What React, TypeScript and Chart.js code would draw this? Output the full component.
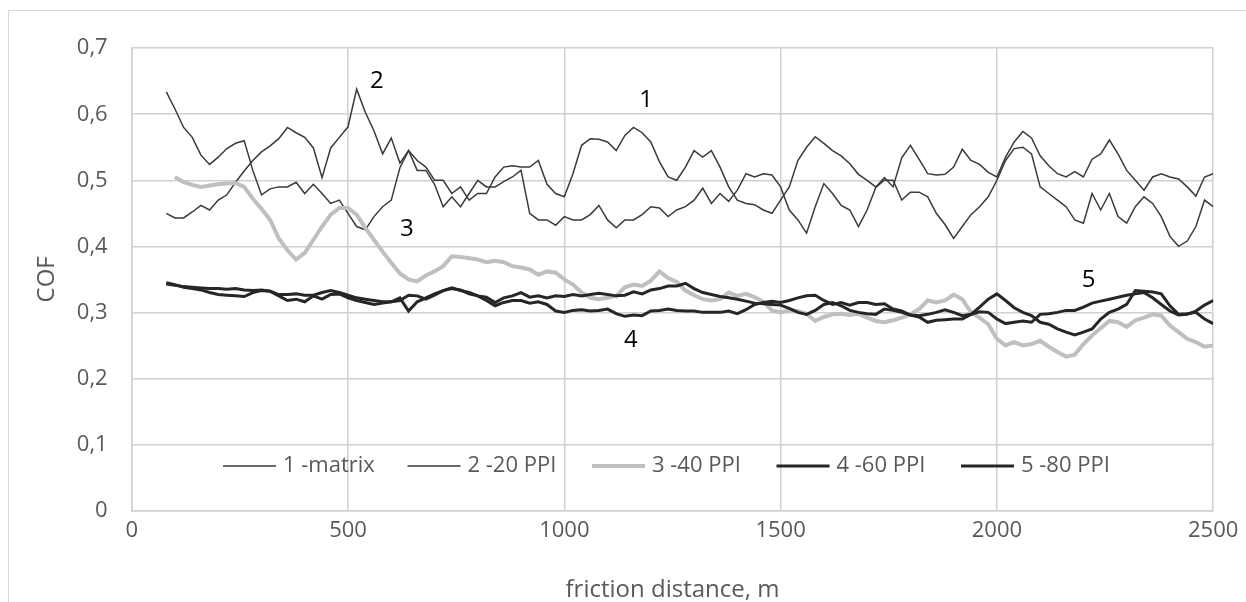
import React, { useEffect, useRef } from "react";
import { Chart, registerables } from "chart.js";

Chart.register(...registerables);

// friction distance, m
const distance = [
  80, 100, 120, 140, 160, 180, 200, 220, 240, 260,
  280, 300, 320, 340, 360, 380, 400, 420, 440, 460,
  480, 500, 520, 540, 560, 580, 600, 620, 640, 660,
  680, 700, 720, 740, 760, 780, 800, 820, 840, 860,
  880, 900, 920, 940, 960, 980, 1000, 1020, 1040, 1060,
  1080, 1100, 1120, 1140, 1160, 1180, 1200, 1220, 1240, 1260,
  1280, 1300, 1320, 1340, 1360, 1380, 1400, 1420, 1440, 1460,
  1480, 1500, 1520, 1540, 1560, 1580, 1600, 1620, 1640, 1660,
  1680, 1700, 1720, 1740, 1760, 1780, 1800, 1820, 1840, 1860,
  1880, 1900, 1920, 1940, 1960, 1980, 2000, 2020, 2040, 2060,
  2080, 2100, 2120, 2140, 2160, 2180, 2200, 2220, 2240, 2260,
  2280, 2300, 2320, 2340, 2360, 2380, 2400, 2420, 2440, 2460,
  2480, 2500,
];

const matrix = [
  0.634, 0.608, 0.58, 0.565, 0.538, 0.524, 0.535, 0.548, 0.556, 0.56,
  0.515, 0.478, 0.487, 0.49, 0.49, 0.497, 0.48, 0.494, 0.48, 0.465,
  0.47, 0.45, 0.43, 0.425, 0.445, 0.46, 0.47, 0.519, 0.545, 0.53,
  0.52, 0.5, 0.5, 0.48, 0.49, 0.47, 0.48, 0.48, 0.505, 0.52,
  0.522, 0.52, 0.52, 0.53, 0.494, 0.48, 0.475, 0.51, 0.553, 0.563,
  0.562, 0.558, 0.545, 0.568, 0.58, 0.572, 0.558, 0.528, 0.505, 0.5,
  0.52, 0.545, 0.535, 0.545, 0.52, 0.49, 0.47, 0.465, 0.463, 0.455,
  0.45, 0.47, 0.49, 0.53, 0.55, 0.566, 0.556, 0.545, 0.537, 0.525,
  0.509, 0.5, 0.49, 0.504, 0.49, 0.534, 0.553, 0.532, 0.51, 0.508,
  0.509, 0.52, 0.547, 0.53, 0.524, 0.512, 0.505, 0.535, 0.558, 0.574,
  0.564, 0.537, 0.522, 0.51, 0.505, 0.513, 0.505, 0.532, 0.54, 0.561,
  0.54, 0.515, 0.5, 0.485, 0.505, 0.51, 0.505, 0.502, 0.49, 0.476,
  0.505, 0.51,
];

const ppi20 = [
  0.45, 0.443, 0.443, 0.452, 0.462, 0.455, 0.47, 0.478, 0.497, 0.514,
  0.53, 0.543, 0.552, 0.563, 0.58, 0.572, 0.565, 0.549, 0.504, 0.549,
  0.565, 0.581, 0.638, 0.603, 0.575, 0.54, 0.564, 0.526, 0.545, 0.515,
  0.515, 0.494, 0.46, 0.475, 0.46, 0.48, 0.5, 0.49, 0.49, 0.498,
  0.505, 0.515, 0.45, 0.44, 0.44, 0.432, 0.445, 0.44, 0.44, 0.448,
  0.462, 0.44, 0.428, 0.44, 0.44, 0.448, 0.46, 0.458, 0.445, 0.455,
  0.46, 0.47, 0.488, 0.465, 0.48, 0.468, 0.485, 0.51, 0.505, 0.51,
  0.508, 0.49, 0.455, 0.44, 0.42, 0.46, 0.495, 0.48, 0.462, 0.455,
  0.43, 0.455, 0.489, 0.5, 0.5, 0.47, 0.482, 0.482, 0.475, 0.45,
  0.433, 0.412, 0.43, 0.448, 0.46, 0.475, 0.5, 0.53, 0.548, 0.55,
  0.54, 0.49, 0.48, 0.47, 0.46, 0.44, 0.435, 0.48, 0.455, 0.48,
  0.445, 0.435, 0.46, 0.475, 0.465, 0.445, 0.415, 0.4, 0.408, 0.43,
  0.47, 0.46,
];

const ppi40 = [
  null, 0.505, 0.497, 0.493, 0.49, 0.492, 0.494, 0.495, 0.496, 0.49,
  0.472, 0.457, 0.44, 0.412, 0.394, 0.38, 0.39, 0.41, 0.43, 0.448,
  0.458, 0.458, 0.448, 0.428, 0.41, 0.392, 0.375, 0.359, 0.35, 0.347,
  0.356, 0.362, 0.37, 0.385, 0.384, 0.382, 0.38, 0.376, 0.378, 0.376,
  0.37, 0.368, 0.365, 0.357, 0.362, 0.36, 0.35, 0.342, 0.33, 0.322,
  0.32, 0.322, 0.325, 0.338, 0.342, 0.34, 0.348, 0.362, 0.352, 0.346,
  0.333, 0.326, 0.32, 0.318, 0.32, 0.33, 0.325, 0.328, 0.323, 0.316,
  0.303, 0.3, 0.303, 0.302, 0.298, 0.287, 0.293, 0.297, 0.298, 0.296,
  0.298, 0.292, 0.287, 0.285, 0.288, 0.292, 0.297, 0.305, 0.318, 0.315,
  0.318, 0.327, 0.32, 0.3, 0.292, 0.282, 0.26, 0.25, 0.255, 0.25,
  0.252, 0.257, 0.248, 0.24, 0.233, 0.236, 0.252, 0.265, 0.276, 0.287,
  0.285, 0.278, 0.288, 0.292, 0.297, 0.295, 0.28, 0.27, 0.26, 0.255,
  0.248, 0.25,
];

const ppi60 = [
  0.345, 0.342, 0.338, 0.336, 0.334, 0.33, 0.327, 0.326, 0.325, 0.324,
  0.33, 0.333, 0.332, 0.325, 0.318, 0.32, 0.316, 0.325, 0.32, 0.327,
  0.328, 0.322, 0.318, 0.315, 0.312, 0.314, 0.316, 0.322, 0.302, 0.316,
  0.322, 0.328, 0.333, 0.337, 0.333, 0.33, 0.325, 0.318, 0.31, 0.315,
  0.318, 0.318, 0.314, 0.316, 0.312, 0.302, 0.3, 0.303, 0.304, 0.302,
  0.303, 0.305, 0.298, 0.294, 0.296, 0.295, 0.302, 0.303, 0.305, 0.303,
  0.302, 0.302, 0.3, 0.3, 0.3, 0.302, 0.298, 0.304, 0.312, 0.315,
  0.317, 0.315, 0.318, 0.322, 0.325, 0.326, 0.318, 0.312, 0.315, 0.311,
  0.315, 0.315, 0.312, 0.313, 0.305, 0.302, 0.296, 0.293, 0.285, 0.288,
  0.289, 0.29, 0.29, 0.297, 0.301, 0.3, 0.29, 0.283, 0.285, 0.287,
  0.285, 0.297, 0.298, 0.3, 0.303, 0.303, 0.308, 0.314, 0.317, 0.32,
  0.323, 0.326, 0.328, 0.33, 0.322, 0.312, 0.302, 0.296, 0.297, 0.302,
  0.311, 0.318,
];

const ppi80 = [
  0.343, 0.341, 0.339, 0.338, 0.337, 0.336, 0.336, 0.335, 0.336, 0.334,
  0.333, 0.334, 0.332, 0.327, 0.327, 0.328, 0.326, 0.326, 0.33, 0.333,
  0.33, 0.326, 0.322, 0.32, 0.318, 0.316, 0.316, 0.318, 0.326, 0.325,
  0.32, 0.326, 0.333, 0.336, 0.334, 0.328, 0.325, 0.323, 0.315, 0.322,
  0.325, 0.33, 0.323, 0.325, 0.322, 0.325, 0.324, 0.327, 0.325, 0.327,
  0.329, 0.327, 0.325, 0.326, 0.331, 0.328, 0.334, 0.336, 0.34, 0.34,
  0.344, 0.336, 0.33, 0.327, 0.324, 0.322, 0.32, 0.317, 0.314, 0.313,
  0.312, 0.311, 0.306, 0.3, 0.297, 0.303, 0.312, 0.315, 0.31, 0.303,
  0.3, 0.298, 0.297, 0.305, 0.303, 0.3, 0.296, 0.295, 0.297, 0.3,
  0.304, 0.3, 0.295, 0.297, 0.308, 0.32, 0.328, 0.318, 0.307, 0.3,
  0.295, 0.285, 0.282, 0.275, 0.27, 0.266, 0.27, 0.275, 0.29, 0.3,
  0.305, 0.312, 0.333, 0.332, 0.331, 0.328, 0.31, 0.297, 0.298, 0.3,
  0.29, 0.283,
];

const seriesNames = ["1 -matrix", "2 -20 PPI", "3 -40 PPI", "4 -60 PPI", "5 -80 PPI"];
const seriesValues = [matrix, ppi20, ppi40, ppi60, ppi80];
const seriesColors = ["#3a3a3a", "#3a3a3a", "#bfbfbf", "#262626", "#262626"];
const seriesWidths = [1.5, 1.5, 4, 3, 3];

// curve number labels placed in data coordinates (distance, COF)
const curveLabels = [
  { text: "1", d: 1189, v: 0.622 },
  { text: "2", d: 567, v: 0.65 },
  { text: "3", d: 636, v: 0.426 },
  { text: "4", d: 1154, v: 0.258 },
  { text: "5", d: 2212, v: 0.349 },
];

const xTicks = [0, 500, 1000, 1500, 2000, 2500];
const yMin = 0;
const yMax = 0.7;

const FONT = "'Open Sans', 'DejaVu Sans', sans-serif";

const insideLegend = {
  id: "insideLegend",
  afterDraw(chart: any) {
    const ctx = chart.ctx;
    const y = 455;
    const start = 214;
    const step = 184.5;
    const lineLen = 53;
    ctx.save();
    ctx.font = `22px ${FONT}`;
    ctx.textBaseline = "middle";
    ctx.textAlign = "left";
    seriesNames.forEach((name, i) => {
      const x0 = start + i * step;
      ctx.beginPath();
      ctx.strokeStyle = seriesColors[i];
      ctx.lineWidth = seriesWidths[i];
      ctx.moveTo(x0, y);
      ctx.lineTo(x0 + lineLen, y);
      ctx.stroke();
      ctx.fillStyle = "#595959";
      ctx.fillText(name, x0 + lineLen + 7, y);
    });
    ctx.restore();
  },
};

const curveLabelPlugin = {
  id: "curveLabels",
  afterDraw(chart: any) {
    const ctx = chart.ctx;
    const xs = chart.scales.x;
    const ys = chart.scales.y;
    ctx.save();
    ctx.font = `24px ${FONT}`;
    ctx.fillStyle = "#000000";
    ctx.textAlign = "center";
    ctx.textBaseline = "middle";
    curveLabels.forEach((l) => {
      ctx.fillText(l.text, xs.getPixelForValue(l.d), ys.getPixelForValue(l.v));
    });
    ctx.restore();
  },
};

export default function App() {
  const ref = useRef<HTMLCanvasElement | null>(null);

  useEffect(() => {
    if (!ref.current) return;
    const datasets = seriesValues.map((vals, i) => ({
      label: seriesNames[i],
      data: distance
        .map((d, k) => ({ x: d, y: vals[k] }))
        .filter((p) => p.y !== null && p.y !== undefined),
      borderColor: seriesColors[i],
      backgroundColor: seriesColors[i],
      borderWidth: seriesWidths[i],
      pointRadius: 0,
      tension: 0,
      fill: false,
      order: 5 - i,
    }));

    const chart = new Chart(ref.current, {
      type: "line",
      data: { datasets },
      options: {
        responsive: false,
        maintainAspectRatio: false,
        animation: false,
        layout: { padding: { top: 27, right: 32.8, left: 0, bottom: 0 } },
        plugins: {
          legend: { display: false },
          tooltip: { enabled: false },
        },
        scales: {
          x: {
            type: "linear",
            min: xTicks[0],
            max: xTicks[xTicks.length - 1],
            afterFit: (s: any) => {
              s.height = 91.5;
            },
            afterBuildTicks: (s: any) => {
              s.ticks = xTicks.map((v) => ({ value: v }));
            },
            grid: { color: "#d0d0d0", lineWidth: 1.5, drawTicks: false },
            border: { color: "#d0d0d0", width: 1.5 },
            ticks: {
              color: "#595959",
              font: { family: FONT, size: 22 },
              padding: 7,
              maxRotation: 0,
              callback: (v: any) => String(v),
            },
            title: {
              display: true,
              text: "friction distance, m",
              color: "#595959",
              font: { family: FONT, size: 24, lineHeight: 1 },
              padding: { top: 0, bottom: 0 },
            },
          },
          y: {
            type: "linear",
            min: yMin,
            max: yMax,
            afterFit: (s: any) => {
              s.width = 122.7;
            },
            ticks: {
              stepSize: 0.1,
              color: "#595959",
              font: { family: FONT, size: 22 },
              padding: 24,
              callback: (v: any) =>
                Number(v) === 0 ? "0" : Number(v).toFixed(1).replace(".", ","),
            },
            grid: { color: "#d0d0d0", lineWidth: 1.5, drawTicks: false },
            border: { color: "#d0d0d0", width: 1.5 },
            title: {
              display: true,
              text: "COF",
              color: "#595959",
              font: { family: FONT, size: 24 },
              padding: { top: 24, bottom: 0 },
            },
          },
        },
      },
      plugins: [insideLegend, curveLabelPlugin],
    });
    return () => chart.destroy();
  }, []);

  return (
    <div
      style={{
        position: "fixed",
        left: 8,
        top: 10,
        width: 1238,
        height: 592,
        borderTop: "1px solid #d9d9d9",
        borderLeft: "1px solid #d9d9d9",
        boxSizing: "border-box",
        background: "#ffffff",
      }}
    >
      <canvas ref={ref} width={1237} height={591} style={{ display: "block" }} />
    </div>
  );
}
